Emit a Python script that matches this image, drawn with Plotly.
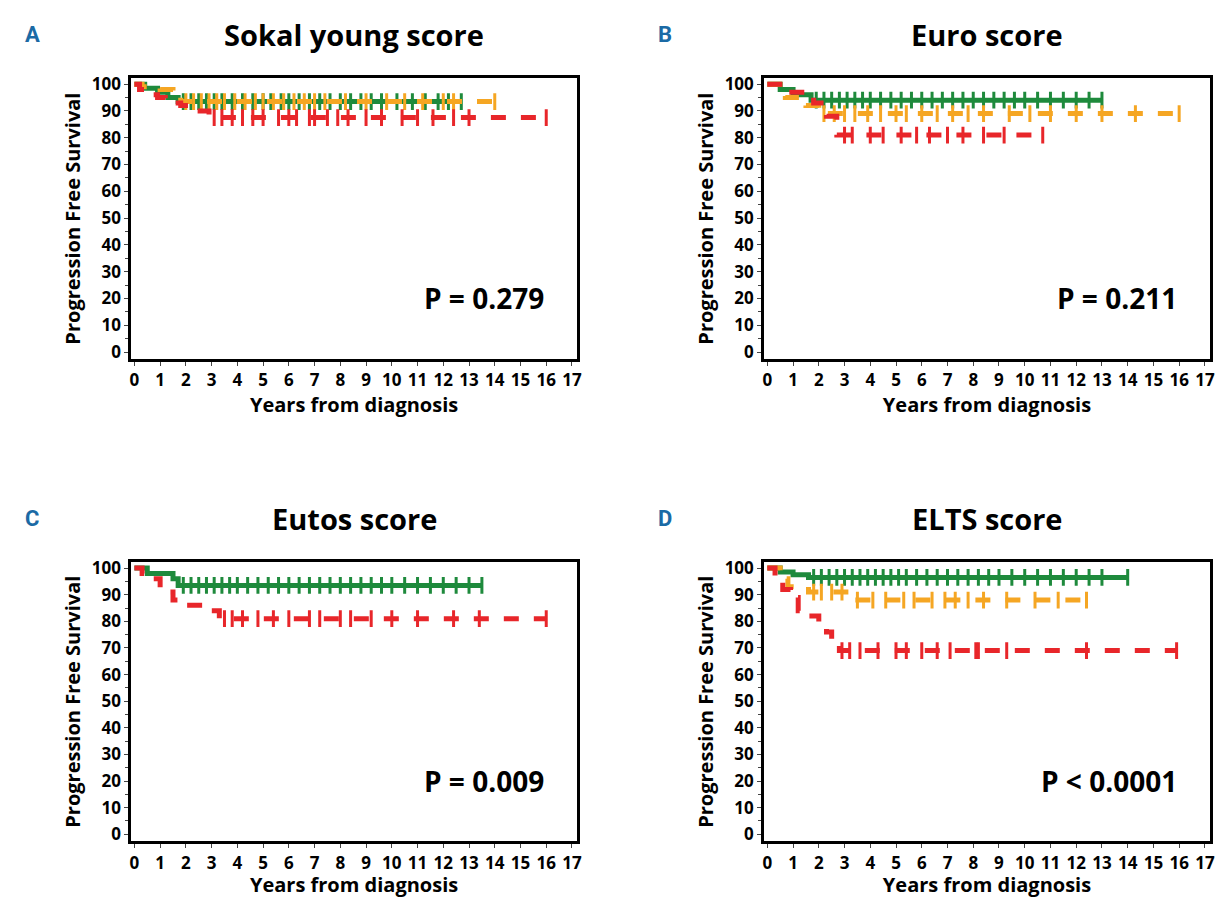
import plotly.graph_objects as go

GREEN = '#1e8a3c'
ORANGE = '#f5a623'
RED = '#e8262a'

titles = ["Sokal young score", "Euro score", "Eutos score", "ELTS score"]
letters = ["A", "B", "C", "D"]
pvalues = ["P = 0.279", "P = 0.211", "P = 0.009", "P < 0.0001"]

# each curve: event times, survival after event, end time, censor times
a_green_t = [0, 0.4, 0.9, 1.3, 1.7]
a_green_s = [100, 98.5, 97, 95, 93.5]
a_green_end = 12.7
a_green_cens = [1.9, 2.2, 2.5, 2.8, 3.1, 3.4, 3.8, 4.2, 4.6, 5.0, 5.3, 5.7, 6.0, 6.4, 6.8, 7.2, 7.6, 8.0, 8.4, 8.8, 9.2, 9.6, 10.2, 10.8, 11.3, 11.8, 12.2, 12.7]
a_orange_t = [0, 0.3, 1.0, 1.5, 1.8]
a_orange_s = [100, 99, 98, 96, 93.5]
a_orange_end = 14.0
a_orange_cens = [2.0, 2.3, 2.6, 2.9, 3.2, 3.5, 3.9, 4.3, 4.7, 5.0, 5.4, 5.8, 6.2, 6.6, 7.0, 7.4, 8.2, 9.0, 9.8, 10.5, 11.2, 12.0, 12.4, 14.0]
a_red_t = [0, 0.2, 0.5, 0.9, 1.2, 1.8, 2.4, 2.9]
a_red_s = [100, 98, 96, 95, 93, 92, 90, 87.5]
a_red_end = 16.0
a_red_cens = [3.1, 3.4, 3.8, 4.2, 4.6, 5.0, 5.6, 6.0, 6.3, 6.8, 7.0, 7.5, 7.9, 8.3, 9.0, 9.6, 10.4, 11.0, 11.6, 12.4, 13.0, 16.0]

b_green_t = [0, 0.5, 1.0, 1.7]
b_green_s = [100, 98, 96, 94]
b_green_end = 13.0
b_green_cens = [1.9, 2.2, 2.5, 2.8, 3.1, 3.4, 3.7, 4.0, 4.4, 4.8, 5.2, 5.6, 6.0, 6.4, 6.8, 7.2, 7.6, 8.0, 8.4, 8.8, 9.2, 9.6, 10.0, 10.5, 11.0, 11.5, 12.0, 12.5, 13.0]
b_orange_t = [0, 0.7, 1.5, 2.0]
b_orange_s = [100, 95, 92, 89]
b_orange_end = 16.0
b_orange_cens = [2.2, 2.6, 3.0, 3.4, 3.9, 4.4, 5.0, 5.4, 6.0, 6.6, 7.2, 7.8, 8.4, 9.4, 10.2, 11.0, 12.0, 13.0, 14.3, 16.0]
b_red_t = [0, 0.8, 1.8, 2.3, 2.7]
b_red_s = [100, 97, 93, 88, 81]
b_red_end = 10.7
b_red_cens = [3.0, 3.3, 4.0, 4.5, 5.2, 5.8, 6.3, 7.0, 7.6, 8.4, 9.2, 10.7]

c_green_t = [0, 0.5, 1.5, 1.7]
c_green_s = [100, 98, 96, 93.5]
c_green_end = 13.5
c_green_cens = [1.9, 2.2, 2.5, 2.8, 3.1, 3.4, 3.7, 4.0, 4.4, 4.8, 5.2, 5.6, 6.0, 6.4, 6.8, 7.2, 7.6, 8.0, 8.4, 8.8, 9.2, 9.6, 10.0, 10.5, 11.0, 11.5, 12.0, 12.5, 13.0, 13.5]
c_red_t = [0, 0.3, 0.6, 1.0, 1.5, 2.0, 2.7, 3.3]
c_red_s = [100, 98, 96, 91, 88, 86, 84, 81]
c_red_end = 16.0
c_red_cens = [3.5, 3.8, 4.2, 4.8, 5.4, 6.0, 6.8, 7.2, 8.0, 8.4, 9.2, 10.0, 11.0, 12.4, 13.4, 16.0]

d_green_t = [0, 0.5, 1.0, 1.6]
d_green_s = [100, 98.5, 97.5, 96.5]
d_green_end = 14.0
d_green_cens = [1.8, 2.1, 2.4, 2.7, 3.0, 3.3, 3.6, 3.9, 4.2, 4.5, 4.8, 5.1, 5.4, 5.8, 6.2, 6.6, 7.0, 7.4, 7.8, 8.2, 8.6, 9.0, 9.5, 10.0, 10.5, 11.0, 11.5, 12.0, 12.5, 13.0, 14.0]
d_orange_t = [0, 0.5, 0.8, 1.6, 3.3]
d_orange_s = [100, 96, 93, 91, 88]
d_orange_end = 12.4
d_orange_cens = [1.8, 2.1, 2.5, 2.9, 3.5, 4.1, 4.6, 5.3, 5.7, 6.4, 6.9, 7.3, 7.8, 8.4, 9.3, 10.4, 11.3, 12.4]
d_red_t = [0, 0.3, 0.6, 0.9, 1.2, 1.6, 2.0, 2.3, 2.5, 2.8]
d_red_s = [100, 96, 92, 89, 84, 82, 79, 76, 73, 69]
d_red_end = 15.9
d_red_cens = [2.9, 3.2, 3.6, 4.3, 5.0, 5.4, 6.0, 6.6, 7.1, 8.1, 8.2, 9.3, 12.4, 15.9]

panels = [
    [(a_green_t, a_green_s, a_green_end, a_green_cens, GREEN, 'solid'),
     (a_orange_t, a_orange_s, a_orange_end, a_orange_cens, ORANGE, 'dash'),
     (a_red_t, a_red_s, a_red_end, a_red_cens, RED, 'dash')],
    [(b_green_t, b_green_s, b_green_end, b_green_cens, GREEN, 'solid'),
     (b_orange_t, b_orange_s, b_orange_end, b_orange_cens, ORANGE, 'dash'),
     (b_red_t, b_red_s, b_red_end, b_red_cens, RED, 'dash')],
    [(c_green_t, c_green_s, c_green_end, c_green_cens, GREEN, 'solid'),
     (c_red_t, c_red_s, c_red_end, c_red_cens, RED, 'dash')],
    [(d_green_t, d_green_s, d_green_end, d_green_cens, GREEN, 'solid'),
     (d_orange_t, d_orange_s, d_orange_end, d_orange_cens, ORANGE, 'dash'),
     (d_red_t, d_red_s, d_red_end, d_red_cens, RED, 'dash')],
]

xdoms = [[0.101, 0.472], [0.628, 0.999], [0.101, 0.472], [0.628, 0.999]]
ydoms = [[0.608, 0.927], [0.608, 0.927], [0.060, 0.377], [0.060, 0.377]]

def surv_at(ts, ss, t):
    v = ss[0]
    for ti, si in zip(ts, ss):
        if ti <= t:
            v = si
    return v

FONT = "Open Sans"
fig = go.Figure()
layout = dict(width=1208, height=890, margin=dict(l=0, r=0, t=0, b=0),
              plot_bgcolor='white', paper_bgcolor='white', showlegend=False,
              annotations=[])

for i, curves in enumerate(panels):
    n = '' if i == 0 else str(i + 1)
    for ts, ss, end, cens, col, dash in curves:
        fig.add_trace(go.Scatter(x=ts + [end], y=ss + [ss[-1]], mode='lines',
                                 line=dict(color=col, width=5, dash=dash, shape='hv'),
                                 xaxis='x' + n, yaxis='y' + n))
        fig.add_trace(go.Scatter(x=cens, y=[surv_at(ts, ss, c) for c in cens], mode='markers',
                                 marker=dict(symbol='line-ns', size=12, line=dict(color=col, width=3)),
                                 xaxis='x' + n, yaxis='y' + n))
    layout['xaxis' + n] = dict(domain=xdoms[i], anchor='y' + n, range=[-0.12, 17.19],
                               tickmode='array', tickvals=list(range(18)),
                               showgrid=False, zeroline=False, showline=True, mirror=True,
                               linecolor='black', linewidth=3, ticks='outside', ticklen=4,
                               tickfont=dict(family=FONT, size=17, color='black', weight='bold'),
                               title=dict(text='Years from diagnosis', standoff=2,
                                          font=dict(family=FONT, size=20, color='black', weight='bold')))
    layout['yaxis' + n] = dict(domain=ydoms[i], anchor='x' + n, range=[-2.6, 102.2],
                               tickmode='array', tickvals=list(range(0, 101, 10)),
                               showgrid=False, zeroline=False, showline=True, mirror=True,
                               linecolor='black', linewidth=3, ticks='outside', ticklen=4,
                               minor=dict(ticks='outside', ticklen=3, dtick=5),
                               tickfont=dict(family=FONT, size=17, color='black', weight='bold'),
                               title=dict(text='Progression Free Survival', standoff=6,
                                          font=dict(family=FONT, size=20, color='black', weight='bold')))
    xm = sum(xdoms[i]) / 2
    layout['annotations'] += [
        dict(text=titles[i], xref='paper', yref='paper', x=xm, y=ydoms[i][1] + 0.025,
             xanchor='center', yanchor='bottom', showarrow=False,
             font=dict(family=FONT, size=29, color='black', weight='bold')),
        dict(text=letters[i], xref='paper', yref='paper', x=xdoms[i][0] - 0.09, y=ydoms[i][1] + 0.066,
             xanchor='left', yanchor='top', showarrow=False,
             font=dict(family='Roboto', size=22, color='#1b6aa5', weight='bold')),
        dict(text=pvalues[i], xref='x' + n, yref='y' + n, x=16.0, y=20,
             xanchor='right', yanchor='middle', showarrow=False,
             font=dict(family=FONT, size=28, color='black', weight='bold')),
    ]

fig.update_layout(**layout)
fig.write_html("out.html")
